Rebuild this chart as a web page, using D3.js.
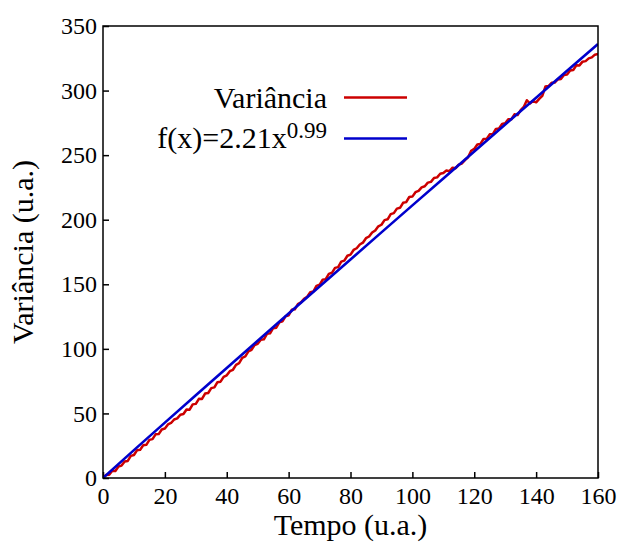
<!DOCTYPE html>
<meta charset="utf-8">
<script src="https://d3js.org/d3.v7.min.js"></script>
<style>
  body { margin: 0; background: #fff; }
  text { font-family: "Liberation Serif", "Times New Roman", serif; fill: #000; }
</style>
<body>
<div id="chart"></div>
<script>
// variance, one value per time unit (t = 0..160)
var variancia = [
  0, 2.4, 2.6, 5.6, 5.4, 8.9, 9.6, 12.8, 13.2, 17.1, 17.8,
  21.5, 21.8, 25.4, 25.7, 29.5, 30.1, 33.8, 34.0, 37.6, 38.3,
  41.5, 42.6, 45.3, 46.2, 49.0, 49.6, 53.1, 52.9, 57.0, 57.4,
  61.3, 61.2, 65.4, 65.8, 69.6, 70.2, 74.2, 74.6, 78.3, 79.5,
  82.7, 83.8, 87.6, 88.9, 93.0, 94.1, 98.1, 99.3, 103.0, 103.9,
  107.0, 107.4, 111.6, 112.0, 116.0, 116.4, 120.5, 121.3, 125.1, 126.0,
  130.2, 130.6, 134.6, 136.0, 138.8, 140.4, 143.9, 144.4, 148.8, 149.6,
  153.5, 154.0, 158.0, 158.9, 162.7, 163.3, 167.5, 168.3, 172.1, 173.0,
  176.6, 177.9, 180.8, 182.2, 185.7, 187.0, 190.1, 191.7, 194.9, 196.1,
  199.7, 200.3, 204.3, 205.1, 208.6, 209.2, 213.1, 213.6, 217.6, 217.9,
  221.3, 222.3, 225.0, 225.9, 228.7, 229.3, 232.3, 232.8, 235.6, 236.2,
  238.1, 237.6, 240.3, 239.9, 242.7, 243.5, 246.2, 248.3, 253.4, 254.8,
  258.3, 258.7, 262.5, 262.6, 266.1, 266.3, 270.3, 270.6, 274.2, 274.7,
  277.7, 277.8, 281.6, 281.0, 284.9, 287.3, 292.5, 290.0, 291.9, 290.9,
  293.6, 295.9, 303.1, 303.5, 306.0, 306.2, 308.6, 309.0, 312.1, 312.4,
  315.5, 315.9, 319.6, 319.5, 322.4, 322.8, 324.9, 325.7, 327.8, 328.3
];

// fitted curve f(x) read at every 10 units
var ajusteT = [0, 10, 20, 30, 40, 50, 60, 70, 80, 90, 100, 110, 120, 130, 140, 150, 160];
var ajusteV = [0, 21.6, 42.9, 64.1, 85.2, 106.3, 127.3, 148.3, 169.2, 190.2, 211.1, 231.9, 252.8, 273.7, 294.5, 315.3, 336.1];

var xTicks = [0, 20, 40, 60, 80, 100, 120, 140, 160];
var yTicks = [0, 50, 100, 150, 200, 250, 300, 350];

var W = 624, H = 543;
var mLeft = 103, mRight = 598, mTop = 26, mBottom = 478;

var svg = d3.select("#chart").append("svg")
    .attr("width", W)
    .attr("height", H);

var x = d3.scaleLinear().domain([0, 160]).range([mLeft, mRight]);
var y = d3.scaleLinear().domain([0, 350]).range([mBottom, mTop]);

// axes, ticks pointing inward
var xAxis = svg.append("g")
    .attr("transform", "translate(0," + mBottom + ")")
    .call(d3.axisBottom(x).tickValues(xTicks).tickSizeInner(-6).tickSizeOuter(0).tickPadding(9));
var yAxis = svg.append("g")
    .attr("transform", "translate(" + mLeft + ",0)")
    .call(d3.axisLeft(y).tickValues(yTicks).tickSizeInner(-6).tickSizeOuter(0).tickPadding(6));

[xAxis, yAxis].forEach(function(g) {
  g.attr("font-family", null);
  g.select(".domain").remove();
  g.selectAll(".tick line").attr("stroke", "#000").attr("stroke-width", 1.5);
  g.selectAll(".tick text")
    .style("font-family", "'Liberation Serif', serif")
    .style("font-size", "24px")
    .attr("fill", "#000");
});
xAxis.selectAll(".tick text").attr("dy", "0.72em");

// data lines
var linhaVar = d3.line()
    .x(function(d, i) { return x(i); })
    .y(function(d) { return y(d); });

var linhaFit = d3.line()
    .x(function(d, i) { return x(ajusteT[i]); })
    .y(function(d) { return y(d); });

svg.append("clipPath").attr("id", "plotclip")
  .append("rect")
    .attr("x", mLeft).attr("y", mTop)
    .attr("width", mRight - mLeft).attr("height", mBottom - mTop);

var plot = svg.append("g").attr("clip-path", "url(#plotclip)");

plot.append("path")
    .datum(variancia)
    .attr("fill", "none")
    .attr("stroke", "#cc0000")
    .attr("stroke-width", 2.5)
    .attr("stroke-linejoin", "round")
    .attr("d", linhaVar);

plot.append("path")
    .datum(ajusteV)
    .attr("fill", "none")
    .attr("stroke", "#0000cc")
    .attr("stroke-width", 2.6)
    .attr("d", linhaFit);

// frame
svg.append("rect")
    .attr("x", mLeft).attr("y", mTop)
    .attr("width", mRight - mLeft).attr("height", mBottom - mTop)
    .attr("fill", "none")
    .attr("stroke", "#000")
    .attr("stroke-width", 1.5);

// legend
var legX = 327, sampleX1 = 344, sampleX2 = 407;

svg.append("text")
    .attr("x", legX).attr("y", 108)
    .attr("text-anchor", "end")
    .style("font-size", "30px")
    .text("Variância");
svg.append("line")
    .attr("x1", sampleX1).attr("x2", sampleX2)
    .attr("y1", 97.5).attr("y2", 97.5)
    .attr("stroke", "#cc0000").attr("stroke-width", 2.5);

var ft = svg.append("text")
    .attr("x", legX).attr("y", 148)
    .attr("text-anchor", "end")
    .style("font-size", "30px");
ft.append("tspan").text("f(x)=2.21x");
ft.append("tspan").attr("dy", -10).style("font-size", "23px").text("0.99");
svg.append("line")
    .attr("x1", sampleX1).attr("x2", sampleX2)
    .attr("y1", 138.5).attr("y2", 138.5)
    .attr("stroke", "#0000cc").attr("stroke-width", 2.5);

// axis titles
svg.append("text")
    .attr("x", (mLeft + mRight) / 2).attr("y", 535)
    .attr("text-anchor", "middle")
    .style("font-size", "30px")
    .text("Tempo (u.a.)");

svg.append("text")
    .attr("transform", "translate(33," + (mTop + mBottom) / 2 + ") rotate(-90)")
    .attr("text-anchor", "middle")
    .style("font-size", "30px")
    .text("Variância (u.a.)");
</script>
</body>
